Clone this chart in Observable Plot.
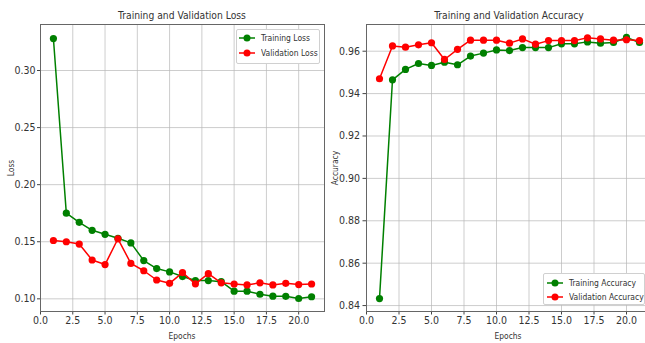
<!DOCTYPE html>
<html>
<head>
<meta charset="utf-8">
<script src="https://cdn.jsdelivr.net/npm/d3@7"></script>
<script src="https://cdn.jsdelivr.net/npm/@observablehq/plot@0.6"></script>
<style>
  html, body { margin: 0; padding: 0; background: #fff; overflow: hidden; }
  #wrap { position: relative; width: 645px; height: 343px; overflow: hidden; font-family: "DejaVu Sans Condensed", "DejaVu Sans", sans-serif; color: #333; }
  .abs { position: absolute; }
  .title { font-size: 11px; transform: translate(-50%, -50%) scaleX(0.93); white-space: nowrap; color: #333; }
  .xlab { font-size: 9px; transform: translate(-50%, -50%) scaleX(0.93); white-space: nowrap; }
  .ylab { font-size: 9px; transform: translate(-50%, -50%) rotate(-90deg) scaleX(0.93); white-space: nowrap; }
  .legend { background: #fff; border: 1px solid #d0d0d0; border-radius: 2px; box-sizing: border-box; font-size: 9px; }
  .legend .item { position: absolute; left: 0; display: flex; align-items: center; white-space: nowrap; transform: translateY(-50%); }
  .legend .item span { display: inline-block; transform: scaleX(0.94); transform-origin: left center; }
</style>
</head>
<body>
<div id="wrap"></div>
<script>
const epochs = [1,2,3,4,5,6,7,8,9,10,11,12,13,14,15,16,17,18,19,20,21];
const trainLoss = [0.328,0.175,0.167,0.160,0.1565,0.153,0.149,0.1335,0.1265,0.1236,0.1195,0.116,0.116,0.115,0.1067,0.1067,0.104,0.1023,0.1022,0.1003,0.1018];
const valLoss = [0.1511,0.150,0.148,0.134,0.130,0.1526,0.131,0.1246,0.1165,0.1136,0.123,0.1131,0.122,0.114,0.113,0.1122,0.114,0.1122,0.1136,0.1125,0.113];
const trainAcc = [0.8433,0.9465,0.9514,0.9542,0.9533,0.9548,0.9536,0.9577,0.9591,0.9606,0.9603,0.9617,0.9617,0.9617,0.9635,0.9635,0.9644,0.9638,0.9641,0.9665,0.9641];
const valAcc = [0.947,0.9625,0.9619,0.963,0.964,0.9561,0.9609,0.9652,0.9652,0.9652,0.9638,0.9658,0.9633,0.965,0.965,0.965,0.9663,0.9658,0.9652,0.9654,0.965];
const xTicks = [0,2.5,5,7.5,10,12.5,15,17.5,20];
const lossTicks = [0.10,0.15,0.20,0.25,0.30];
const accTicks = [0.84,0.86,0.88,0.90,0.92,0.94,0.96];
const lossNames = ["Training Loss","Validation Loss"];
const accNames = ["Training Accuracy","Validation Accuracy"];
const colors = ["green","red"];

const FONT = '"DejaVu Sans Condensed", "DejaVu Sans", sans-serif';

function toRows(vals){ return epochs.map((e,i)=>({epoch:e, value:vals[i]})); }

function chart({width, marginLeft, yDomain, yTicks, series, tickSize, tickPadding}) {
  const marks = [
    Plot.gridX(xTicks, {stroke: "#b8b8b8", strokeOpacity: 0.7, strokeWidth: 1}),
    Plot.gridY(yTicks, {stroke: "#b8b8b8", strokeOpacity: 0.7, strokeWidth: 1}),
    Plot.axisX(xTicks, {tickFormat: d3.format(".1f"), tickSize: 3.5, tickPadding: 2, label: null, fontSize: 10.5, stroke: "#444"}),
    Plot.axisY(yTicks, {tickFormat: d3.format(".2f"), tickSize, tickPadding, label: null, fontSize: 10.5, stroke: "#444"})
  ];
  series.forEach((vals, i) => {
    const rows = toRows(vals);
    marks.push(Plot.line(rows, {x: "epoch", y: "value", stroke: colors[i], strokeWidth: 1.5}));
    marks.push(Plot.dot(rows, {x: "epoch", y: "value", fill: colors[i], r: 3.6}));
  });
  marks.push(Plot.frame({stroke: "#666", strokeWidth: 1}));
  return Plot.plot({
    width, height: 343,
    marginLeft, marginRight: 6, marginTop: 24, marginBottom: 32,
    style: {background: "none", fontFamily: FONT, fontSize: "10.5px", color: "#333", overflow: "visible", maxWidth: "none"},
    x: {domain: [0, 22]},
    y: {domain: yDomain},
    marks
  });
}

const wrap = document.getElementById("wrap");

function place(el, left, top) {
  const d = document.createElement("div");
  d.className = "abs";
  d.style.left = left + "px";
  d.style.top = top + "px";
  d.appendChild(el);
  wrap.appendChild(d);
  return d;
}

place(chart({width: 330, marginLeft: 40, yDomain: [0.0889, 0.3403], yTicks: lossTicks, series: [trainLoss, valLoss], tickSize: 3, tickPadding: 2}), 0, 0);
place(chart({width: 338, marginLeft: 46, yDomain: [0.8372, 0.9726], yTicks: accTicks, series: [trainAcc, valAcc], tickSize: 3.5, tickPadding: 3}), 320, 0);

function text(cls, str, x, y) {
  const d = document.createElement("div");
  d.className = "abs " + cls;
  d.style.left = x + "px";
  d.style.top = y + "px";
  d.textContent = str;
  wrap.appendChild(d);
}
text("title", "Training and Validation Loss", 182, 15);
text("title", "Training and Validation Accuracy", 509, 15);
text("xlab", "Epochs", 182, 336);
text("xlab", "Epochs", 508, 336);
text("ylab", "Loss", 10.5, 168);
text("ylab", "Accuracy", 335, 168);

function legend(names, left, top, w, h, rowYs, symLeft, textLeft) {
  const box = document.createElement("div");
  box.className = "abs legend";
  box.style.left = left + "px";
  box.style.top = top + "px";
  box.style.width = w + "px";
  box.style.height = h + "px";
  names.forEach((n, i) => {
    const it = document.createElement("div");
    it.className = "item";
    it.style.top = rowYs[i] + "px";
    it.style.left = symLeft + "px";
    const ns = "http://www.w3.org/2000/svg";
    const svg = document.createElementNS(ns, "svg");
    svg.setAttribute("width", 16); svg.setAttribute("height", 8);
    svg.style.marginRight = (textLeft - symLeft - 16) + "px";
    const ln = document.createElementNS(ns, "line");
    ln.setAttribute("x1", 0); ln.setAttribute("x2", 16); ln.setAttribute("y1", 4); ln.setAttribute("y2", 4);
    ln.setAttribute("stroke", colors[i]); ln.setAttribute("stroke-width", 1.5);
    const c = document.createElementNS(ns, "circle");
    c.setAttribute("cx", 8); c.setAttribute("cy", 4); c.setAttribute("r", 3.5); c.setAttribute("fill", colors[i]);
    svg.appendChild(ln); svg.appendChild(c);
    const t = document.createElement("span");
    t.textContent = n;
    it.appendChild(svg); it.appendChild(t);
    box.appendChild(it);
  });
  wrap.appendChild(box);
}
legend(lossNames, 236, 29, 84, 35, [8, 23], 2, 24);
legend(accNames, 543, 273, 102, 32, [8.5, 22.5], 3, 25);
</script>
</body>
</html>
